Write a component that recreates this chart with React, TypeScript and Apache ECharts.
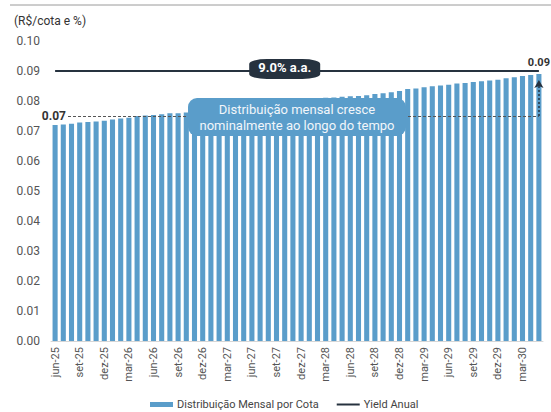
import React, { useEffect, useRef } from "react";
import * as echarts from "echarts";

const categories = [
  "jun-25","jul-25","ago-25","set-25","out-25","nov-25","dez-25","jan-26","fev-26","mar-26","abr-26","mai-26",
  "jun-26","jul-26","ago-26","set-26","out-26","nov-26","dez-26","jan-27","fev-27","mar-27","abr-27","mai-27",
  "jun-27","jul-27","ago-27","set-27","out-27","nov-27","dez-27","jan-28","fev-28","mar-28","abr-28","mai-28",
  "jun-28","jul-28","ago-28","set-28","out-28","nov-28","dez-28","jan-29","fev-29","mar-29","abr-29","mai-29",
  "jun-29","jul-29","ago-29","set-29","out-29","nov-29","dez-29","jan-30","fev-30","mar-30","abr-30","mai-30",
];

const distribuicao = [
  0.0720, 0.0722, 0.0724, 0.0728, 0.0730, 0.0732, 0.0734, 0.0738, 0.0742, 0.0744, 0.0750, 0.0752,
  0.0753, 0.0756, 0.0759, 0.0759, 0.0762, 0.0765, 0.0768, 0.0771, 0.0774, 0.0777, 0.0780, 0.0783,
  0.0786, 0.0789, 0.0792, 0.0795, 0.0798, 0.0801, 0.0804, 0.0807, 0.0809, 0.0811, 0.0812, 0.0814,
  0.0816, 0.0817, 0.0819, 0.0823, 0.0826, 0.0829, 0.0833, 0.0840, 0.0842, 0.0846, 0.0849, 0.0852,
  0.0854, 0.0858, 0.0860, 0.0863, 0.0866, 0.0868, 0.0871, 0.0876, 0.0879, 0.0883, 0.0887, 0.0890,
];

const yieldAnual = categories.map(() => 0.09);

const startLevel = 0.075;
const arrowTip = 0.087;
const startLabel = "0.07";
const endLabel = "0.09";
const yieldLabel = "9.0% a.a.";
const yieldLabelIndex = 28;
const annotationLines = ["Distribuição mensal cresce", "nominalmente ao longo do tempo"];

const BAR_COLOR = "#5a9dca";
const DARK = "#26323f";
const FONT = "Roboto, 'Noto Sans', sans-serif";

export default function App() {
  const ref = useRef<HTMLDivElement>(null);
  useEffect(() => {
    if (!ref.current) return;
    const chart = echarts.init(ref.current, null, { renderer: "svg" });
    const last = distribuicao.length - 1;
    chart.setOption({
      animation: false,
      textStyle: { fontFamily: FONT },
      title: {
        text: "(R$/cota e %)",
        left: 9,
        top: 10,
        textStyle: { fontSize: 12, fontWeight: "normal", color: "#333", fontFamily: FONT },
      },
      grid: { left: 51, right: 8, top: 41, bottom: 71, containLabel: false, outerBoundsMode: "none" },
      legend: {
        top: 394,
        left: 145,
        itemGap: 18,
        itemWidth: 23,
        itemHeight: 5,
        textStyle: { fontSize: 11, color: "#444", fontFamily: FONT, padding: [0, 0, 0, -1] },
        data: [
          { name: "Distribuição Mensal por Cota", icon: "rect" },
          { name: "Yield Anual", icon: "path://M0,0H23V2H0Z" },
        ],
      },
      xAxis: {
        type: "category",
        data: categories,
        axisTick: { show: false },
        axisLine: { lineStyle: { color: "#d6d6d6" } },
        axisLabel: {
          interval: 2,
          rotate: 90,
          margin: 6,
          fontSize: 11,
          color: "#555",
          fontFamily: FONT,
        },
      },
      yAxis: {
        type: "value",
        min: 0,
        max: 0.1,
        interval: 0.01,
        splitLine: { show: false },
        axisLine: { show: false },
        axisTick: { show: false },
        axisLabel: {
          margin: 11,
          fontSize: 12,
          color: "#555",
          fontFamily: FONT,
          formatter: (v: number) => v.toFixed(2),
        },
      },
      series: [
        {
          name: "Distribuição Mensal por Cota",
          type: "bar",
          barCategoryGap: "38%",
          itemStyle: { color: BAR_COLOR },
          data: distribuicao.map((v, i) =>
            i === last
              ? {
                  value: v,
                  label: {
                    show: true,
                    position: "top",
                    distance: 6,
                    formatter: endLabel,
                    fontSize: 11,
                    fontWeight: "bold",
                    color: "#333",
                    fontFamily: FONT,
                  },
                }
              : v
          ),
          markLine: {
            silent: true,
            symbol: ["none", "none"],
            data: [
              [
                {
                  x: 68,
                  yAxis: startLevel,
                  lineStyle: { color: "#555", width: 1, type: [3, 2] },
                  label: {
                    show: true,
                    position: "start",
                    formatter: startLabel,
                    fontSize: 12,
                    fontWeight: "bold",
                    color: "#333",
                    distance: 2,
                    fontFamily: FONT,
                  },
                },
                { coord: [last, startLevel] },
              ],
              [
                {
                  coord: [last, startLevel],
                  symbol: "none",
                  lineStyle: { color: DARK, width: 1.5, type: [2, 2] },
                  label: { show: false },
                },
                { coord: [last, arrowTip], symbol: "arrow", symbolSize: [7, 8] },
              ],
            ],
          },
        },
        {
          name: "Yield Anual",
          type: "line",
          symbol: "none",
          lineStyle: { color: DARK, width: 2 },
          itemStyle: { color: DARK },
          data: yieldAnual,
          z: 3,
          markPoint: {
            silent: true,
            data: [
              {
                coord: [yieldLabelIndex, yieldAnual[yieldLabelIndex]],
                symbol: "roundRect",
                symbolSize: [71, 20],
                symbolOffset: [0, -2],
                itemStyle: { color: DARK },
                label: {
                  show: true,
                  position: "inside",
                  offset: [0, -2],
                  formatter: yieldLabel,
                  color: "#fff",
                  fontSize: 13,
                  fontWeight: "bold",
                  fontFamily: FONT,
                },
              },
            ],
          },
        },
      ],
      graphic: [
        {
          type: "line",
          shape: { x1: 10, y1: 5, x2: 551, y2: 5 },
          style: { stroke: "#9a9a9a", lineWidth: 1 },
          silent: true,
        },
        {
          type: "rect",
          shape: { x: 188, y: 98, width: 218, height: 38, r: 9 },
          style: { fill: BAR_COLOR },
          z: 100,
          silent: true,
        },
        {
          type: "text",
          x: 297,
          y: 117,
          z: 101,
          silent: true,
          style: {
            text: annotationLines.join("\n"),
            fill: "#f2f6fa",
            font: `13px ${FONT}`,
            lineHeight: 16,
            align: "center",
            verticalAlign: "middle",
          },
        },
      ],
    });
    return () => chart.dispose();
  }, []);
  return (
    <div
      ref={ref}
      style={{ position: "fixed", left: 0, top: 0, width: 551, height: 412, background: "#fff" }}
    />
  );
}
